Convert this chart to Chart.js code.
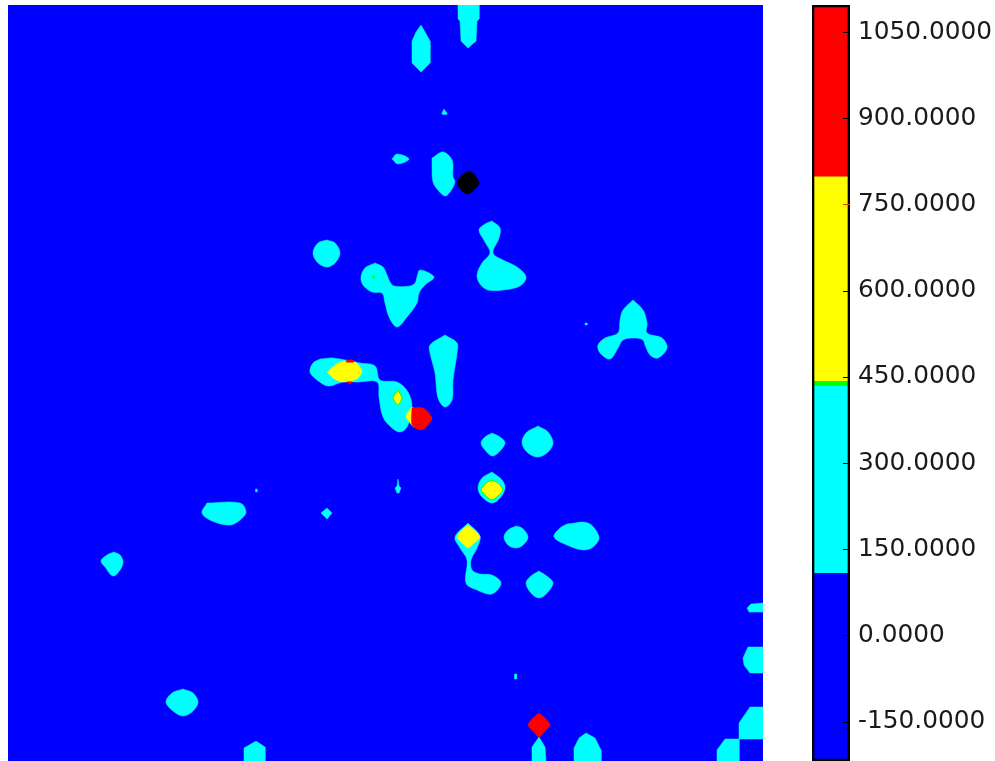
<!DOCTYPE html>
<html>
<head>
<meta charset="utf-8">
<title>Contour map</title>
<script src="https://cdn.jsdelivr.net/npm/chart.js@4/dist/chart.umd.min.js"></script>
<style>
  body { margin: 0; background: #fff; }
  canvas { position: absolute; }
  #contourMap { left: 8px; top: 5px; background: #0000ff; }
  #colorBar { left: 812px; top: 5px; }
</style>
</head>
<body>
<canvas id="contourMap" width="755" height="756"></canvas>
<canvas id="colorBar" width="183" height="756"></canvas>
<script>
// contour outlines, [x, y] in map units
var cyanContours = [
  [[444,109],[447,114],[442,114]],
  [[392,159],[397,154],[409,159],[398,164]],
  [[432,158],[443,152],[452,160],[453,177],[455,182],[450,192],[445,196],[438,190],[433,182],[432,165]],
  [[327,240],[335,243],[340,253],[335,263],[327,267],[318,263],[313,253],[318,243]],
  [[375,263],[383,267],[387,275],[390,282],[394,286],[410,286],[415,283],[417,277],[420,270],[434,277],[425,285],[419,293],[417,303],[407,317],[397,327],[389,317],[385,303],[382,293],[372,292],[363,285],[361,277],[365,268]],
  [[492,221],[500,228],[499,238],[493,253],[503,260],[517,267],[526,277],[520,286],[503,290],[488,290],[480,284],[477,275],[482,263],[490,253],[485,242],[479,230],[485,224]],
  [[320,359],[333,358],[360,363],[375,366],[380,380],[397,382],[408,392],[412,408],[407,427],[400,432],[392,428],[383,417],[379,397],[377,382],[358,382],[343,382],[328,386],[317,380],[310,372],[313,363]],
  [[445,335],[457,343],[457,353],[453,380],[452,400],[445,407],[438,398],[435,373],[430,353],[430,345]],
  [[492,433],[500,437],[505,443],[498,453],[492,456],[485,450],[481,443],[485,437]],
  [[538,426],[548,432],[553,443],[548,452],[538,457],[528,453],[522,443],[526,433]],
  [[492,472],[502,480],[505,488],[500,498],[492,503],[482,497],[478,488],[482,478]],
  [[468,523],[480,536],[477,548],[471,560],[472,570],[480,574],[492,575],[501,583],[492,594],[477,590],[466,583],[467,560],[460,548],[455,537]],
  [[516,526],[522,528],[528,537],[523,545],[516,548],[508,545],[504,537],[508,530]],
  [[567,524],[588,523],[599,537],[593,547],[583,550],[567,545],[554,537],[560,528]],
  [[539,571],[548,577],[553,583],[547,593],[539,598],[531,593],[526,583],[531,576]],
  [[633,300],[643,310],[647,323],[647,333],[662,338],[667,348],[658,358],[650,355],[645,345],[643,340],[635,338],[623,340],[618,348],[610,359],[600,353],[598,345],[605,338],[618,333],[620,320],[623,310]],
  [[207,503],[240,503],[246,512],[240,520],[230,525],[212,521],[202,513]],
  [[114,552],[120,555],[123,562],[120,570],[113,576],[105,567],[101,561],[107,555]],
  [[183,689],[193,693],[198,702],[193,711],[183,716],[173,711],[166,702],[172,693]]
];
// outlines with square corners or cut by the map edge
var cyanCutContours = [
  [[458,5],[479,5],[479,19],[477,21],[476,41],[468,48],[461,41],[460,21],[458,19]],
  [[421,25],[425,32],[430,41],[430,63],[421,72],[412,63],[412,41],[416,32]],
  [[585,323],[587,323],[587,325],[585,325]],
  [[747,608],[751,604],[763,603],[763,612],[749,612]],
  [[743,658],[748,647],[763,647],[763,673],[750,673],[744,665]],
  [[739,723],[750,707],[763,707],[763,739],[739,739]],
  [[717,750],[725,739],[739,739],[739,761],[717,761]],
  [[514.5,674],[516.5,674],[516.5,679],[514.5,679]],
  [[539,737],[545,747],[546,761],[532,761],[532,747]],
  [[586,733],[595,738],[601,750],[601,761],[574,761],[574,748],[579,738]],
  [[255.5,489],[257,489],[257,492],[255.5,492]],
  [[327,508],[332,513],[327,519],[321,513]],
  [[398,479],[399,486],[401,488],[399,493],[397,493],[395,488],[397,486]],
  [[256,741],[265,747],[265,761],[244,761],[244,748]]
];
var greenContours = [
  [[372.5,276],[374.5,276],[374.5,278],[372.5,278]]
];
// yellow areas with a thin green rim
var yellowRimContours = [
  [[398,390],[402,398],[398,405],[393,398]],
  [[492,480],[498,483],[503,490],[498,496],[492,500],[486,496],[481,490],[486,483]]
];
var yellowContours = [
  [[327,372],[340,362],[355,362],[362,371],[357,379],[342,382],[333,378]],
  [[411,408],[406,416],[410,423],[414,427],[414,408]],
  [[468,525],[474,530],[480,537],[474,543],[468,548],[462,543],[457,537],[462,530]]
];
var redContours = [
  [[412,408],[423,408],[432,418],[425,428],[420,430],[412,425]],
  [[347,360],[353,360],[354,362],[346,362]],
  [[347,382],[352,382],[350,384]],
  [[539,713],[545,718],[550,725],[545,731],[539,737],[533,731],[528,725],[533,718]]
];
var blackContours = [
  [[468,171],[474,174],[479,183],[474,190],[468,194],[462,191],[457,183],[462,175]]
];

// colour bar
var barCategories = [''];
var barRange = [-217.6, 1098];
var blueBand = [-217.6, 108.8];
var cyanBand = [108.8, 435];
var greenBand = [435, 443];
var yellowBand = [443, 799];
var redBand = [799, 1098];
var barTicks = [1050, 900, 750, 600, 450, 300, 150, 0, -150];

function contourDatasets(contours, color, edgeColor, tension) {
  return contours.map(function (outline) {
    var pts = outline.concat([outline[0]]).map(function (p) { return {x: p[0], y: p[1]}; });
    return {
      data: pts,
      showLine: true,
      fill: 'shape',
      tension: tension,
      pointRadius: 0,
      backgroundColor: color,
      borderColor: edgeColor || color,
      borderWidth: edgeColor ? 1 : 0.5
    };
  });
}

// first dataset is painted last
var mapDatasets = [].concat(
  contourDatasets(blackContours, '#000000', null, 0.3),
  contourDatasets(redContours, '#ff0000', null, 0.25),
  contourDatasets(yellowContours, '#ffff00', null, 0.25),
  contourDatasets(yellowRimContours, '#ffff00', '#00ff00', 0.25),
  contourDatasets(greenContours, '#00ff00', null, 0),
  contourDatasets(cyanContours, '#00ffff', null, 0.35),
  contourDatasets(cyanCutContours, '#00ffff', null, 0)
);

var mapChart = new Chart(document.getElementById('contourMap').getContext('2d'), {
  type: 'scatter',
  data: { datasets: mapDatasets },
  options: {
    responsive: false,
    animation: false,
    layout: { padding: 0 },
    scales: {
      x: { type: 'linear', display: false, min: 8, max: 763 },
      y: { type: 'linear', display: false, min: 5, max: 761, reverse: true }
    },
    plugins: { legend: { display: false }, tooltip: { enabled: false } }
  }
});

function bandDataset(band, color) {
  return {
    data: [band],
    grouped: false,
    backgroundColor: color,
    borderWidth: 0,
    barPercentage: 1,
    categoryPercentage: 1
  };
}

var frameDataset = bandDataset(barRange, 'rgba(0,0,0,0)');
frameDataset.borderColor = '#000000';
frameDataset.borderWidth = 2;
frameDataset.borderSkipped = false;
frameDataset.borderRadius = 2;

var barChart = new Chart(document.getElementById('colorBar').getContext('2d'), {
  type: 'bar',
  data: {
    labels: barCategories,
    datasets: [
      frameDataset,
      bandDataset(blueBand, '#0000ff'),
      bandDataset(cyanBand, '#00ffff'),
      bandDataset(greenBand, '#00ff00'),
      bandDataset(yellowBand, '#ffff00'),
      bandDataset(redBand, '#ff0000')
    ]
  },
  options: {
    responsive: false,
    animation: false,
    layout: { padding: 0 },
    scales: {
      x: { display: false },
      y: {
        position: 'right',
        min: barRange[0],
        max: barRange[1],
        afterFit: function (scale) {
          scale.width = 145;
          scale.paddingTop = 0;
          scale.paddingBottom = 0;
        },
        afterBuildTicks: function (scale) {
          scale.ticks = barTicks.map(function (v) { return {value: v}; });
        },
        border: { display: false },
        grid: {
          z: 1,
          drawOnChartArea: false,
          tickLength: -7,
          tickWidth: 1,
          tickColor: function (ctx) { return ctx.tick && ctx.tick.value === 750 ? '#ff3000' : '#000000'; }
        },
        ticks: {
          padding: 15,
          labelOffset: -0.5,
          color: '#1a1a1a',
          font: { family: '"DejaVu Sans"', size: 24.8 },
          callback: function (v) { return Number(v).toFixed(4); }
        }
      }
    },
    plugins: { legend: { display: false }, tooltip: { enabled: false } }
  }
});
</script>
</body>
</html>
